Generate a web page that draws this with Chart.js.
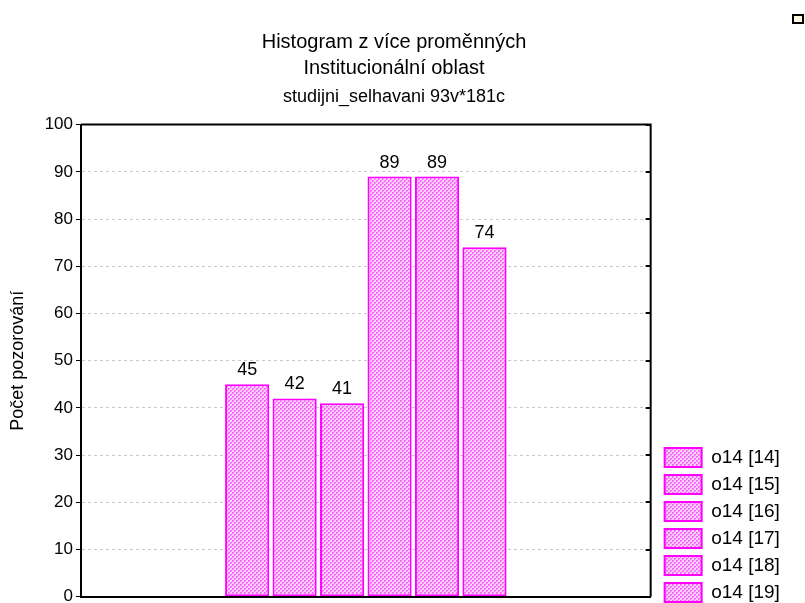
<!DOCTYPE html>
<html>
<head>
<meta charset="utf-8">
<script src="https://cdn.jsdelivr.net/npm/chart.js@4"></script>
<style>
  html, body { margin: 0; padding: 0; background: #fff; overflow: hidden; }
  #wrap { width: 805px; height: 610px; }
</style>
</head>
<body>
<div id="wrap"><canvas id="histChart" width="805" height="610"></canvas></div>
<script>
// data
const categories = [''];
const seriesNames = ['o14 [14]', 'o14 [15]', 'o14 [16]', 'o14 [17]', 'o14 [18]', 'o14 [19]'];
const seriesValues = [45, 42, 41, 89, 89, 74];
const yTicks = [0, 10, 20, 30, 40, 50, 60, 70, 80, 90, 100];

const FONT = 'Arial, "Liberation Sans", sans-serif';

// pink checker fill like the Statistica bars
function makePattern() {
  const c = document.createElement('canvas');
  c.width = 4; c.height = 4;
  const g = c.getContext('2d');
  g.fillStyle = '#ffccff';
  g.fillRect(0, 0, 4, 4);
  g.fillStyle = '#f56af5';
  g.fillRect(0, 0, 2, 2);
  g.fillRect(2, 2, 2, 2);
  g.fillStyle = '#fbaafb';
  g.fillRect(1, 1, 1, 1);
  g.fillRect(3, 3, 1, 1);
  return g.createPattern(c, 'repeat');
}
const fill = makePattern();

const datasets = seriesNames.map((name, i) => ({
  label: name,
  data: [seriesValues[i]],
  backgroundColor: fill,
  borderColor: '#ff00ff',
  borderWidth: 2,
  borderSkipped: false,
  categoryPercentage: 0.5,
  barPercentage: 0.93
}));

// value labels over the bars, box around plot, inner ticks on the right
const extras = {
  id: 'extras',
  afterDatasetsDraw(chart) {
    const ctx = chart.ctx;
    ctx.save();
    ctx.font = '18px ' + FONT;
    ctx.fillStyle = '#000';
    ctx.textAlign = 'center';
    ctx.textBaseline = 'bottom';
    chart.data.datasets.forEach((ds, i) => {
      const bar = chart.getDatasetMeta(i).data[0];
      ctx.fillText(String(ds.data[0]), bar.x, bar.y - 5);
    });
    ctx.restore();
  },
  afterDraw(chart) {
    const ctx = chart.ctx;
    const a = chart.chartArea;
    const y = chart.scales.y;
    ctx.save();
    ctx.strokeStyle = '#000';
    ctx.lineWidth = 2;
    ctx.beginPath();
    ctx.moveTo(a.left, a.top);
    ctx.lineTo(a.right, a.top);
    ctx.lineTo(a.right, a.bottom);
    ctx.stroke();
    ctx.beginPath();
    yTicks.forEach(v => {
      const py = Math.round(y.getPixelForValue(v));
      ctx.moveTo(a.right - 5, py);
      ctx.lineTo(a.right, py);
    });
    ctx.stroke();
    // little window box in the corner
    ctx.fillStyle = '#fff8e6';
    ctx.fillRect(793, 15, 10, 8);
    ctx.strokeRect(793, 15, 10, 8);
    ctx.restore();
  }
};

new Chart(document.getElementById('histChart').getContext('2d'), {
  type: 'bar',
  data: { labels: categories, datasets: datasets },
  options: {
    responsive: false,
    animation: false,
    layout: { padding: { left: 0, right: 17, top: 0, bottom: 0 } },
    plugins: {
      title: {
        display: true,
        text: ['Histogram z více proměnných', 'Institucionální oblast'],
        color: '#000',
        font: { family: FONT, size: 20, weight: 'normal', lineHeight: 1.3 },
        padding: { top: 29, bottom: 0 }
      },
      subtitle: {
        display: true,
        text: 'studijni_selhavani 93v*181c',
        color: '#000',
        font: { family: FONT, size: 18, weight: 'normal', lineHeight: 1.2 },
        padding: { top: 5, bottom: 17 }
      },
      legend: {
        position: 'right',
        align: 'end',
        labels: {
          boxWidth: 37,
          boxHeight: 19,
          padding: 8,
          color: '#000',
          font: { family: FONT, size: 19 }
        }
      },
      tooltip: { enabled: false }
    },
    scales: {
      x: {
        offset: true,
        grid: { display: false },
        ticks: { display: false },
        border: { color: '#000', width: 2 },
        afterFit: s => { s.height = 12; }
      },
      y: {
        min: 0,
        max: 100,
        afterBuildTicks: s => { s.ticks = yTicks.map(v => ({ value: v })); },
        ticks: { color: '#000', padding: 3, font: { family: FONT, size: 17 } },
        grid: { color: '#c8c8c8', tickColor: '#000', tickLength: 5, lineWidth: 1 },
        border: { color: '#000', width: 2, dash: [3, 3] },
        title: {
          display: true,
          text: 'Počet pozorování',
          color: '#000',
          font: { family: FONT, size: 18 },
          padding: { top: 7, bottom: 0 }
        },
        afterFit: s => { s.width = 81; }
      },
      yr: {
        position: 'right',
        display: true,
        ticks: { display: false },
        grid: { display: false },
        border: { display: false },
        afterFit: s => { s.width = 6; }
      }
    }
  },
  plugins: [extras]
});
</script>
</body>
</html>
